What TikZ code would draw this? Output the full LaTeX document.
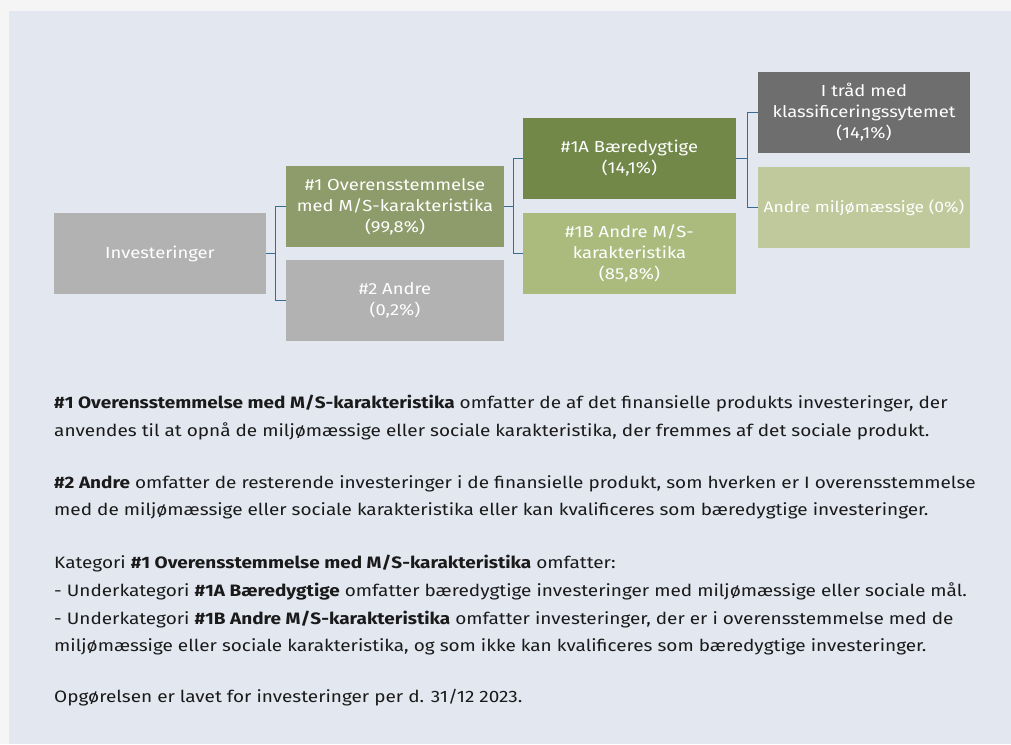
\documentclass[tikz,border=0pt]{standalone}
\usepackage{fontspec}
\setmainfont[FakeStretch=1.15]{Fira Sans}
\definecolor{outergray}{HTML}{F5F5F5}
\definecolor{panelblue}{HTML}{E3E7F0}
\definecolor{boxgray}{HTML}{B2B2B2}
\definecolor{darkgray}{HTML}{6E6E6E}
\definecolor{olive}{HTML}{8E9B6A}
\definecolor{darkgreen}{HTML}{718849}
\definecolor{midgreen}{HTML}{ABBB7E}
\definecolor{palegreen}{HTML}{BFC99B}
\definecolor{linkblue}{HTML}{3A6B93}
\definecolor{bodyblack}{HTML}{1A1A1A}
\begin{document}
\begin{tikzpicture}[x=1pt,y=-1pt]
    \tikzstyle{box}=[rectangle, minimum width=212pt, minimum height=81pt, inner sep=0pt,
                     align=center, text=white, font=\fontsize{16}{21}\selectfont]
    \tikzstyle{link}=[draw=linkblue, line width=1.2pt]
    \tikzstyle{body}=[anchor=base west, inner sep=0pt, text=bodyblack,
                      font=\fontsize{16.5}{28}\selectfont]
    \fill[outergray] (0,0) rectangle (1011,744);
    \fill[panelblue] (9,11) rectangle (1011,744);
    \useasboundingbox (0,0) rectangle (1011,744);

    % tree of boxes
    \node[box, fill=boxgray] (inv) at (160,253.5) {Investeringer};
    \node[box, fill=olive, minimum width=218pt] (one) at (395,206.5)
        {\#1 Overensstemmelse\\med M/S-karakteristika\\(99,8\%)};
    \node[box, fill=boxgray, minimum width=218pt] (two) at (395,300.5) {\#2 Andre\\(0,2\%)};
    \node[box, fill=darkgreen, minimum width=213pt] (oneA) at (629.5,158.5) {\#1A Bæredygtige\\(14,1\%)};
    \node[box, fill=midgreen, minimum width=213pt] (oneB) at (629.5,253.5)
        {\#1B Andre M/S-\\karakteristika\\(85,8\%)};
    \node[box, fill=darkgray] (taxo) at (864,112.5) {I tråd med\\klassificeringssytemet\\(14,1\%)};
    \node[box, fill=palegreen, font=\fontsize{15.2}{21}\selectfont] (other) at (864,207.5)
        {Andre miljømæssige (0\%)};

    \draw[link] (inv.east) -- ++(9,0) |- (one.west);
    \draw[link] (inv.east) -- ++(9,0) |- (two.west);
    \draw[link] (one.east) -- ++(9,0) |- (oneA.west);
    \draw[link] (one.east) -- ++(9,0) |- (oneB.west);
    \draw[link] (oneA.east) -- ++(11,0) |- (taxo.west);
    \draw[link] (oneA.east) -- ++(11,0) |- (other.west);

    % explanation
    \node[body] (l1) at (54,408) {\textbf{\#1 Overensstemmelse med M/S-karakteristika} omfatter de af det finansielle produkts investeringer, der};
    \node[body] (l2) at (54,436) {anvendes til at opnå de miljømæssige eller sociale karakteristika, der fremmes af det sociale produkt.};
    \node[body] (l3) at (54,488) {\textbf{\#2 Andre} omfatter de resterende investeringer i de finansielle produkt, som hverken er I overensstemmelse};
    \node[body] (l4) at (54,515) {med de miljømæssige eller sociale karakteristika eller kan kvalificeres som bæredygtige investeringer.};
    \node[body] (l5) at (54,568) {Kategori \textbf{\#1 Overensstemmelse med M/S-karakteristika} omfatter:};
    \node[body] (l6) at (54,596) {- Underkategori \textbf{\#1A Bæredygtige} omfatter bæredygtige investeringer med miljømæssige eller sociale mål.};
    \node[body] (l7) at (54,624) {- Underkategori \textbf{\#1B Andre M/S-karakteristika} omfatter investeringer, der er i overensstemmelse med de};
    \node[body] (l8) at (54,651) {miljømæssige eller sociale karakteristika, og som ikke kan kvalificeres som bæredygtige investeringer.};
    \node[body] (l9) at (54,702) {Opgørelsen er lavet for investeringer per d. 31/12 2023.};

\end{tikzpicture}
\end{document}
